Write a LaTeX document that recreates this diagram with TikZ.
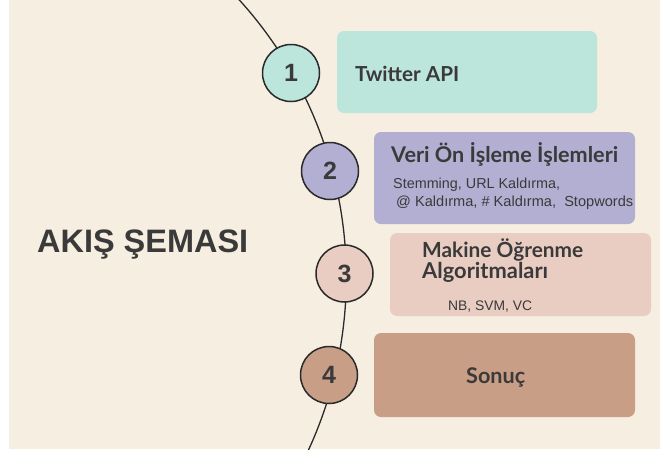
\documentclass[tikz,border=0pt]{standalone}
\usepackage{fontspec}
\setmainfont{Liberation Sans}
\newfontfamily\headfont{Lato}
\newcommand{\fitw}[2]{\resizebox{#1pt}{!}{#2}}
\begin{document}
\begin{tikzpicture}[x=1pt,y=-1pt,
  box/.style={draw=none,rounded corners=7pt,inner sep=0pt},
  stepnum/.style={circle,draw=linecol,line width=1.5pt,minimum size=57pt,inner sep=0pt,
     font=\fontsize{25}{25}\selectfont\bfseries,text=txtcol},
  head/.style={inner sep=0pt,text=txtcol,anchor=base west,font=\fontsize{20}{20}\selectfont\headfont\bfseries},
  small/.style={inner sep=0pt,text=txtcol,anchor=base west,font=\fontsize{12}{12}\selectfont}]
\definecolor{bgcol}{HTML}{F6EEE0}
\definecolor{linecol}{HTML}{2A2A2A}
\definecolor{txtcol}{HTML}{3A3A3A}
\definecolor{tealc}{HTML}{BCE5DB}
\definecolor{lavc}{HTML}{B2AFD3}
\definecolor{pinkc}{HTML}{EACDC2}
\definecolor{brownc}{HTML}{C89E86}
\useasboundingbox (0,0) rectangle (660,453);
\fill[white] (0,0) rectangle (660,453);
\fill[bgcol] (9,0) rectangle (660,449);
% curve
\coordinate (C) at (-66.7,277.3);
\begin{scope}
\clip (9,0) rectangle (660,449);
\draw[linecol,line width=1.3pt] ([shift={(45:413pt)}]C) arc[start angle=45,end angle=-30,radius=413pt];
\end{scope}
% boxes
\node[box,fill=tealc,minimum width=260pt,minimum height=82pt] (b1) at (467,72) {};
\node[box,fill=lavc,minimum width=261pt,minimum height=92pt] (b2) at (504.5,178) {};
\node[box,fill=pinkc,minimum width=261pt,minimum height=83pt] (b3) at (520.5,274.5) {};
\node[box,fill=brownc,minimum width=261pt,minimum height=84pt] (b4) at (504.5,375) {};
% circles
\node[stepnum,fill=tealc] (c1) at (291,73) {1};
\node[stepnum,fill=lavc] (c2) at (330,171) {2};
\node[stepnum,fill=pinkc] (c3) at (344.5,273.5) {3};
\node[stepnum,fill=brownc] (c4) at (329,375) {4};
% texts
\node[head] (t1) at (355,81) {\fitw{104}{Twitter API}};
\node[head] (t2) at (391,162) {\fitw{227}{Veri Ön İşleme İşlemleri}};
\node[small] (t2a) at (393,188) {\fitw{167}{Stemming, URL Kaldırma,}};
\node[small] (t2b) at (396,206) {\fitw{237}{@ Kaldırma, \# Kaldırma,\ \ Stopwords}};
\node[head] (t3a) at (422,257) {\fitw{161}{Makine Öğrenme}};
\node[head] (t3b) at (422,278) {\fitw{126}{Algoritmaları}};
\node[small] (t3c) at (448,310) {\fitw{84}{NB, SVM, VC}};
\node[head] (t4) at (466,383) {\fitw{59}{Sonuç}};
\node[inner sep=0pt,anchor=base west,text=txtcol,font=\fontsize{31}{31}\selectfont\bfseries] (title) at (37,252) {\fitw{211}{AKIŞ ŞEMASI}};
\end{tikzpicture}
\end{document}
